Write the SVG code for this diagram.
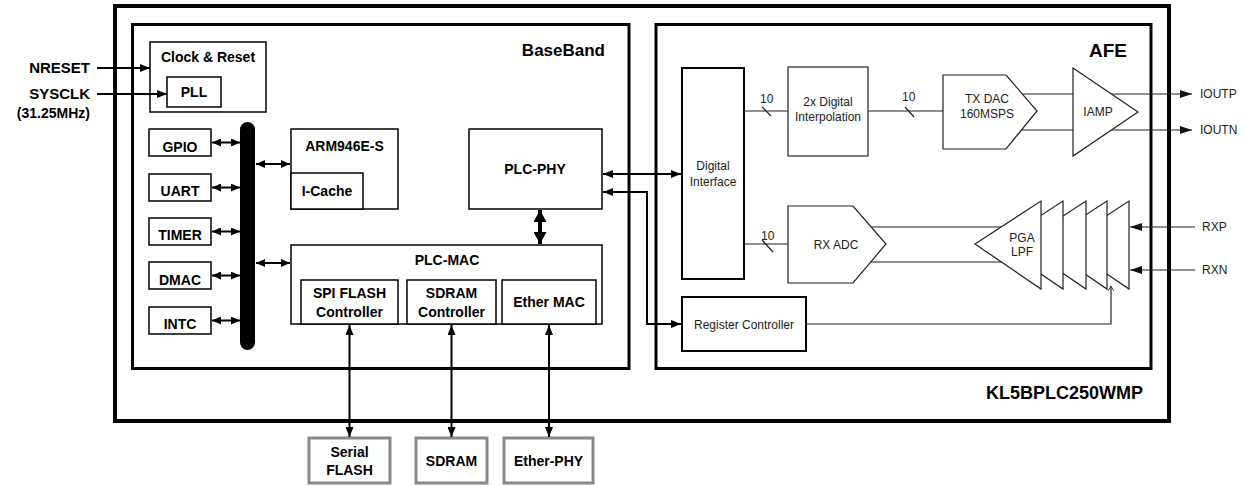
<svg xmlns="http://www.w3.org/2000/svg" width="1244" height="485" viewBox="0 0 1244 485">
<style>
text{font-family:"Liberation Sans",Arial,sans-serif;fill:#000}
.b{font-weight:bold;font-size:14px;text-anchor:middle}
.r{font-size:12px;text-anchor:middle;fill:#222}
.box{fill:#fff;stroke:#000;stroke-width:1.5}
.abox{fill:#fff;stroke:#222;stroke-width:1.2}
.ext{fill:#fff;stroke:#888;stroke-width:3}
.ln{fill:none;stroke:#000;stroke-width:2}
.al{fill:none;stroke:#222;stroke-width:1.2}
</style>
<defs>
<marker id="ah" markerUnits="userSpaceOnUse" markerWidth="10" markerHeight="8" refX="10" refY="4" orient="auto-start-reverse"><path d="M0,0 L10,4 L0,8 z" fill="#000"/></marker>
<marker id="ahs" markerUnits="userSpaceOnUse" markerWidth="9" markerHeight="8" refX="9" refY="4" orient="auto-start-reverse"><path d="M0,0 L9,4 L0,8 z" fill="#000"/></marker>
<marker id="ahb" markerUnits="userSpaceOnUse" markerWidth="12" markerHeight="13" refX="12" refY="6.5" orient="auto-start-reverse"><path d="M0,0 L12,6.5 L0,13 z" fill="#000"/></marker>
<marker id="ahg" markerUnits="userSpaceOnUse" markerWidth="12" markerHeight="8" refX="12" refY="4" orient="auto-start-reverse"><path d="M0,0 L12,4 L0,8 z" fill="#111"/></marker>
<marker id="op" markerUnits="userSpaceOnUse" markerWidth="6" markerHeight="6" refX="5" refY="3" orient="auto"><path d="M0,0 L5,3 L0,6" fill="none" stroke="#222" stroke-width="0.8"/></marker>
</defs>

<!-- chip frames -->
<g id="chip">
<rect x="115" y="6" width="1054" height="415" fill="none" stroke="#000" stroke-width="4"/>
<text x="1143" y="399" style="font-weight:bold;font-size:18px;text-anchor:end">KL5BPLC250WMP</text>
</g>
<g id="baseband">
<rect x="132.5" y="24.5" width="496.5" height="344" fill="none" stroke="#000" stroke-width="3"/>
<text x="605" y="56" style="font-weight:bold;font-size:17px;text-anchor:end">BaseBand</text>
</g>
<g id="afe">
<rect x="656" y="24.5" width="495" height="344" fill="none" stroke="#000" stroke-width="3"/>
<text x="1127" y="57" style="font-weight:bold;font-size:19px;text-anchor:end">AFE</text>
</g>

<!-- external labels -->
<g id="nreset"><text x="90" y="73" style="font-weight:bold;font-size:15px;text-anchor:end">NRESET</text></g>
<g id="sysclk"><text x="90" y="99" style="font-weight:bold;font-size:15px;text-anchor:end">SYSCLK</text>
<text x="90" y="118" style="font-weight:bold;font-size:14px;text-anchor:end">(31.25MHz)</text></g>

<g id="clock-reset">
<rect class="box" x="150" y="42" width="116" height="70"/>
<text class="b" x="208" y="62">Clock &amp; Reset</text>
</g>
<g id="pll">
<rect class="box" x="167" y="77" width="54" height="30"/>
<text class="b" x="194" y="97">PLL</text>
</g>

<g id="gpio"><rect class="box" x="149" y="129" width="62" height="27"/><text class="b" x="180" y="152">GPIO</text></g>
<g id="uart"><rect class="box" x="149" y="174" width="62" height="27"/><text class="b" x="180" y="196">UART</text></g>
<g id="timer"><rect class="box" x="149" y="218" width="62" height="27"/><text class="b" x="180" y="240">TIMER</text></g>
<g id="dmac"><rect class="box" x="149" y="262" width="62" height="27"/><text class="b" x="180" y="285">DMAC</text></g>
<g id="intc"><rect class="box" x="149" y="307" width="62" height="27"/><text class="b" x="180" y="329">INTC</text></g>

<g id="bus"><rect x="240" y="122" width="15" height="228" rx="7.5" fill="#000"/></g>

<g id="arm">
<rect class="box" x="291" y="129" width="107" height="80"/>
<text class="b" x="344.5" y="151">ARM946E-S</text>
</g>
<g id="icache">
<rect class="box" x="291" y="173" width="72" height="36"/>
<text class="b" x="327" y="196">I-Cache</text>
</g>

<g id="plc-phy">
<rect class="box" x="469" y="129" width="133" height="80"/>
<text class="b" x="535" y="174">PLC-PHY</text>
</g>

<g id="plc-mac">
<rect class="box" x="291" y="245" width="311" height="79"/>
<text class="b" x="447" y="265">PLC-MAC</text>
</g>
<g id="spi-flash-ctrl">
<rect class="box" x="301" y="280" width="97" height="44"/>
<text class="b" x="349.5" y="298">SPI FLASH</text>
<text class="b" x="349.5" y="317">Controller</text>
</g>
<g id="sdram-ctrl">
<rect class="box" x="407" y="280" width="89" height="44"/>
<text class="b" x="451.5" y="298">SDRAM</text>
<text class="b" x="451.5" y="317">Controller</text>
</g>
<g id="ether-mac">
<rect class="box" x="502" y="280" width="94" height="44"/>
<text class="b" x="549" y="307">Ether MAC</text>
</g>

<g id="serial-flash">
<rect class="ext" x="309" y="438" width="81" height="45"/>
<text class="b" x="349.5" y="457">Serial</text>
<text class="b" x="349.5" y="475">FLASH</text>
</g>
<g id="sdram">
<rect class="ext" x="416" y="438" width="71" height="45"/>
<text class="b" x="451.5" y="466">SDRAM</text>
</g>
<g id="ether-phy">
<rect class="ext" x="504" y="438" width="89" height="45"/>
<text class="b" x="548.5" y="466">Ether-PHY</text>
</g>

<!-- AFE blocks -->
<g id="digital-interface">
<rect x="682" y="68" width="62" height="211" fill="#fff" stroke="#000" stroke-width="2"/>
<text class="r" x="713" y="170">Digital</text>
<text class="r" x="713" y="186">Interface</text>
</g>
<g id="interp">
<rect class="abox" x="788" y="67" width="80" height="89"/>
<text class="r" x="828" y="106">2x Digital</text>
<text class="r" x="828" y="121">Interpolation</text>
</g>
<g id="register-controller">
<rect x="682" y="297" width="124" height="54" fill="#fff" stroke="#000" stroke-width="2"/>
<text class="r" x="744" y="329">Register Controller</text>
</g>

<!-- connectors -->
<g id="connectors">
<line class="ln" x1="97" y1="68" x2="150" y2="68" marker-end="url(#ah)"/>
<line class="ln" x1="97" y1="94" x2="167" y2="94" marker-end="url(#ah)"/>
<line class="ln" x1="212" y1="142.5" x2="240" y2="142.5" marker-start="url(#ahs)" marker-end="url(#ahs)"/>
<line class="ln" x1="212" y1="187.5" x2="240" y2="187.5" marker-start="url(#ahs)" marker-end="url(#ahs)"/>
<line class="ln" x1="212" y1="231.5" x2="240" y2="231.5" marker-start="url(#ahs)" marker-end="url(#ahs)"/>
<line class="ln" x1="212" y1="275.5" x2="240" y2="275.5" marker-start="url(#ahs)" marker-end="url(#ahs)"/>
<line class="ln" x1="212" y1="320.5" x2="240" y2="320.5" marker-start="url(#ahs)" marker-end="url(#ahs)"/>
<line class="ln" x1="256" y1="164" x2="290" y2="164" marker-start="url(#ahs)" marker-end="url(#ahs)"/>
<line class="ln" x1="256" y1="263" x2="290" y2="263" marker-start="url(#ahs)" marker-end="url(#ahs)"/>
<line x1="540" y1="210" x2="540" y2="244" stroke="#000" stroke-width="4" marker-start="url(#ahb)" marker-end="url(#ahb)"/>
<line class="ln" x1="349.5" y1="325" x2="349.5" y2="437" marker-start="url(#ah)" marker-end="url(#ah)"/>
<line class="ln" x1="451.5" y1="325" x2="451.5" y2="437" marker-start="url(#ah)" marker-end="url(#ah)"/>
<line class="ln" x1="549" y1="325" x2="549" y2="437" marker-start="url(#ah)" marker-end="url(#ah)"/>
<line class="ln" x1="603" y1="174" x2="681" y2="174" marker-start="url(#ah)" marker-end="url(#ah)"/>
<polyline class="ln" points="603,192 647,192 647,324 681,324" marker-start="url(#ah)" marker-end="url(#ah)"/>
<!-- AFE data paths -->
<line class="al" x1="744" y1="111" x2="788" y2="111"/>
<line class="al" x1="762" y1="107" x2="771" y2="116"/>
<line class="al" x1="868" y1="111" x2="943" y2="111"/>
<line class="al" x1="905" y1="107" x2="914" y2="117"/>
<line class="al" x1="744" y1="244" x2="788" y2="244"/>
<line class="al" x1="762" y1="240" x2="773" y2="252"/>
<line class="al" x1="1010" y1="94" x2="1192" y2="94" marker-end="url(#ahg)"/>
<line class="al" x1="1010" y1="130" x2="1192" y2="130" marker-end="url(#ahg)"/>
<line class="al" x1="870" y1="227" x2="1010" y2="227"/>
<line class="al" x1="870" y1="262" x2="1010" y2="262"/>
<line class="al" x1="1195" y1="227" x2="1130" y2="227" marker-end="url(#ahg)"/>
<line class="al" x1="1195" y1="270" x2="1130" y2="270" marker-end="url(#ahg)"/>
<polyline class="al" points="806,324 1111,324 1111,286" marker-end="url(#op)"/>
</g>

<g id="labels-10">
<text x="760" y="103" style="font-size:12px;fill:#222">10</text>
<text x="902" y="101" style="font-size:12px;fill:#222">10</text>
<text x="761" y="240" style="font-size:12px;fill:#222">10</text>
</g>

<g id="tx-dac">
<polygon class="abox" points="943,75 1006,75 1037,111 1006,149 943,149"/>
<text class="r" x="987" y="103">TX DAC</text>
<text class="r" x="987" y="118">160MSPS</text>
</g>
<g id="iamp">
<polygon class="abox" points="1073,68 1138,112 1073,156"/>
<text class="r" x="1098" y="116">IAMP</text>
</g>
<g id="rx-adc">
<polygon class="abox" points="788,206 853,206 886,244 853,283 788,283"/>
<text class="r" x="836" y="249">RX ADC</text>
</g>
<g id="pga-lpf">
<polygon class="abox" points="1063,244 1129,201 1129,289"/>
<polygon class="abox" points="1041,244 1107,201 1107,289"/>
<polygon class="abox" points="1020,244 1086,201 1086,289"/>
<polygon class="abox" points="997,244 1063,201 1063,289"/>
<polygon class="abox" points="975,244 1041,201 1041,289"/>
<text class="r" x="1022" y="242">PGA</text>
<text class="r" x="1022" y="256">LPF</text>
</g>

<g id="out-labels">
<text x="1200" y="98" style="font-size:12px;fill:#222">IOUTP</text>
<text x="1200" y="134" style="font-size:12px;fill:#222">IOUTN</text>
<text x="1202" y="231" style="font-size:12px;fill:#222">RXP</text>
<text x="1202" y="274" style="font-size:12px;fill:#222">RXN</text>
</g>
</svg>
